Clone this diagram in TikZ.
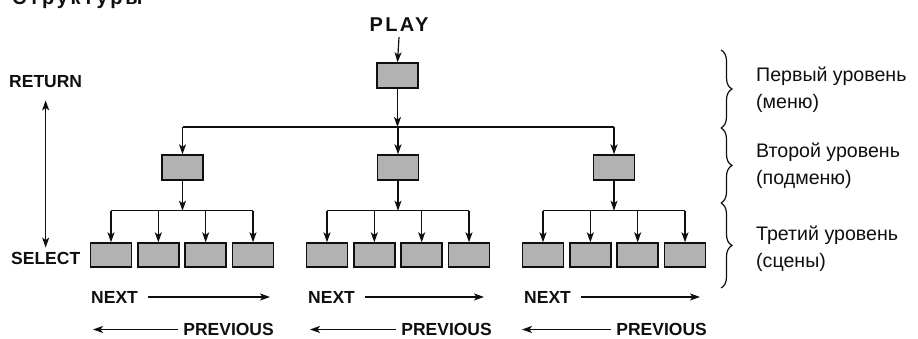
\documentclass[tikz,border=0pt]{standalone}
\usepackage{fontspec}
\setmainfont{Liberation Sans}
\usetikzlibrary{arrows.meta,decorations.pathreplacing,calc}
\definecolor{boxgray}{RGB}{178,178,178}
\definecolor{ink}{RGB}{15,15,15}
\begin{document}
\begin{tikzpicture}[x=1pt,y=-1pt,
  box/.style={draw=ink,line width=1.4pt,fill=boxgray,minimum width=41pt,minimum height=25pt,inner sep=0pt},
  leaf/.style={box,minimum height=24pt},
  tip/.tip={Stealth[length=10pt,width=7pt,inset=2.5pt]},
  arr/.style={-tip,line width=1.2pt,draw=ink},
  dbl/.style={tip-tip,line width=1.3pt,draw=ink},
  ln/.style={line width=1.2pt,draw=ink},
  lbl/.style={font=\bfseries\fontsize{17.5}{20}\selectfont,inner sep=0pt,text=ink},
  big/.style={font=\bfseries\fontsize{20}{22}\selectfont,inner sep=0pt,text=ink},
  side/.style={font=\fontsize{19.6}{22}\selectfont,inner sep=0pt,anchor=base west,text=ink},
  brc/.style={line width=1.2pt,draw=ink,decorate,decoration={brace,amplitude=11pt}}]
\useasboundingbox (0,0) rectangle (918,338);

% cut-off heading
\node[big,anchor=base west] (head) at (12,4) {\addfontfeature{LetterSpace=14}Структуры};

% boxes
\node[box] (t) at (397.5,75.5) {};
\node[box] (m1) at (182.5,167.5) {};
\node[box] (m2) at (398,167.5) {};
\node[box] (m3) at (614,167.5) {};
\foreach \g/\cx in {1/182,2/398,3/614}{
  \foreach \i/\dx in {1/-71,2/-23.67,3/23.67,4/71}{
    \node[leaf] (b\g\i) at (\cx+\dx,255) {};
  }
}

% PLAY
\node[big,anchor=base] (play) at (399,31) {\addfontfeature{LetterSpace=12}PLAY};
\draw[arr] ($(play.south)+(0,6)$) -- (t.north);

% level 1 -> level 2
\coordinate (j1) at (397.5,127);
\draw[arr] (t.south) -- (j1);
\draw[ln] (m1.north |- j1) -- (m3.north |- j1);
\foreach \k in {1,2,3}{
  \draw[arr] (m\k.north |- j1) -- (m\k.north);
}

% level 2 -> level 3
\foreach \g in {1,2,3}{
  \coordinate (j2\g) at ($(m\g.south)+(0,30)$);
  \draw[arr] (m\g.south) -- (j2\g);
  \draw[ln] (b\g1.north |- j2\g) -- (b\g4.north |- j2\g);
  \foreach \i in {1,2,3,4}{
    \draw[arr] (b\g\i.north |- j2\g) -- (b\g\i.north);
  }
}

% RETURN / SELECT
\node[lbl,anchor=base west] (ret) at (9,87) {RETURN};
\node[lbl,anchor=base west] (sel) at (11,264) {SELECT};
\draw[dbl] ($(ret.south)+(0,13)$) -- ($(ret.south |- sel.north)+(0,-4)$);

% NEXT / PREVIOUS
\foreach \k/\nx/\ne/\px/\pe in {1/91/270/274/93, 2/308/484/492/310, 3/524/700/707/522}{
  \node[lbl,anchor=base west] (n\k) at (\nx,303) {NEXT};
  \coordinate (ne\k) at (\ne,297);
  \draw[arr] ($(n\k.east)+(10,0)$) -- (ne\k |- n\k.east);
  \node[lbl,anchor=base east] (p\k) at (\px,335.5) {PREVIOUS};
  \coordinate (pe\k) at (\pe,330);
  \draw[arr] ($(p\k.west)+(-5,0)$) -- (pe\k |- p\k.west);
}

% braces
\coordinate (c0) at (721,50);
\coordinate (c1) at (721,128);
\coordinate (c2) at (721,203);
\coordinate (c3) at (721,288);
\draw[brc] (c0) -- (c1);
\draw[brc] (c1) -- (c2);
\draw[brc] (c2) -- (c3);

% side labels
\node[side] (l1a) at (756,81) {Первый уровень};
\node[side] (l1b) at (756,108) {(меню)};
\node[side] (l2a) at (756,157) {Второй уровень};
\node[side] (l2b) at (756,184) {(подменю)};
\node[side] (l3a) at (756,240) {Третий уровень};
\node[side] (l3b) at (756,267) {(сцены)};
\end{tikzpicture}
\end{document}
